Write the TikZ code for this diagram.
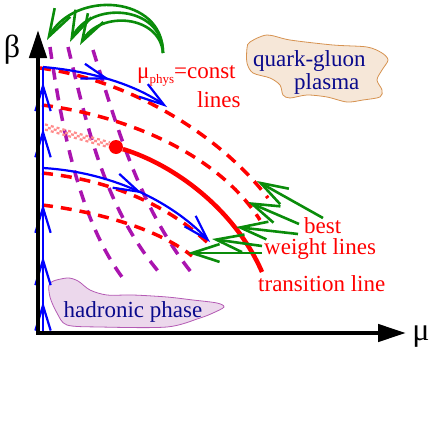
\documentclass[tikz,border=0pt]{standalone}
\usepackage{fontspec}
\setmainfont{Liberation Serif}
\usetikzlibrary{arrows.meta,decorations.markings,calc}
\definecolor{phys}{RGB}{170,20,175}
\definecolor{hint}{RGB}{10,140,10}
\definecolor{phase}{RGB}{10,10,140}
\definecolor{qgpfill}{RGB}{246,231,216}
\definecolor{qgpdraw}{RGB}{214,146,80}
\definecolor{hadfill}{RGB}{236,216,236}
\definecolor{haddraw}{RGB}{180,90,180}

\begin{document}
\begin{tikzpicture}[x=1pt,y=-1pt,
  flowtip/.tip={Straight Barb[angle=34:21pt,scale=1.25]},
  axis/.style={line width=4.5pt,-{Triangle[length=28pt,width=17pt]}},
  flow/.style={blue,line width=2.2pt,-flowtip},
  midflow/.style={postaction={decorate,decoration={markings,mark=at position #1 with {\arrow{flowtip}}}}},
  upflow/.style={postaction={decorate,decoration={markings,
    mark=at position 0.121 with {\arrow{flowtip}},mark=at position 0.291 with {\arrow{flowtip}},
    mark=at position 0.487 with {\arrow{flowtip}},mark=at position 0.770 with {\arrow{flowtip}},
    mark=at position 0.943 with {\arrow{flowtip}}}}},
  weightline/.style={red,line width=3.5pt,dash pattern=on 11pt off 8pt},
  physline/.style={phys,line width=3.5pt,dash pattern=on 12pt off 9pt},
  hintarrow/.style={hint,line width=2.6pt,-{Straight Barb[angle=36:23pt,scale=1.25]}},
  redtext/.style={red,font=\fontsize{23}{23}\selectfont,inner sep=0pt},
  phasetext/.style={phase,font=\fontsize{23}{23}\selectfont,inner sep=0pt},
  axistext/.style={font=\fontsize{32}{32}\selectfont,inner sep=0pt}]
\useasboundingbox (0,0) rectangle (436,423);

\filldraw[fill=qgpfill,draw=qgpdraw,line width=0.8pt] plot[smooth cycle] coordinates {(250,42) (267,35) (290,40) (333,45) (367,47) (382,53) (388,60) (382,70) (377,80) (382,90) (380,97) (363,100) (347,102) (327,97) (307,95) (290,98) (283,95) (280,85) (270,78) (253,73) (247,63) (247,48)};
\filldraw[fill=hadfill,draw=haddraw,line width=0.8pt] plot[smooth cycle] coordinates {(50,283) (67,278) (78,281) (90,290) (107,295) (133,295) (167,297) (193,300) (217,303) (224,307) (213,313) (200,318) (167,327) (100,327) (67,325) (57,313) (50,297)};

\draw[physline] (50,47) .. controls (62,130) and (80,220) .. (122,277);
\draw[physline] (68,47) .. controls (88,130) and (105,210) .. (163,277);
\draw[physline] (93,50) .. controls (118,130) and (140,210) .. (195,277);

\draw[weightline] (40,68) .. controls (130,80) and (220,135) .. (268,198);
\draw[weightline] (42,105) .. controls (120,115) and (215,150) .. (260,220);
\draw[weightline] (42,173) .. controls (110,180) and (170,205) .. (212,247);
\draw[weightline] (42,205) .. controls (100,212) and (160,230) .. (192,256);

\coordinate (bandstart) at (45,127);
\coordinate (bandend) at (110,145);
\foreach \s/\p in {-2.6/0,0/3,2.6/0}
  \draw[red!45,line width=2.2pt,dash pattern=on 3pt off 3pt,dash phase=\p] ($(bandstart)+(0,\s)$) -- ($(bandend)+(0,\s)$);

\node[circle,fill=red,inner sep=0pt,minimum size=14pt] (cep) at (116,147) {};
\draw[red,line width=4.5pt] (cep) .. controls (175,165) and (235,210) .. (262,272);

\coordinate (flowfoot) at (43,334);
\coordinate (flowtop) at (43,67);
\coordinate (flowlow) at (43,168);
\draw[blue,line width=2.2pt,upflow] (flowfoot) -- (flowtop);
\draw[flow,midflow=0.52] (flowtop) .. controls (100,72) and (140,88) .. (167,107);
\draw[flow,midflow=0.55] (flowlow) .. controls (110,172) and (170,200) .. (210,242);

\coordinate (arcfoot) at (163,53);
\draw[hintarrow] (arcfoot) .. controls (163,-5) and (75,-10) .. (47,40);
\draw[hintarrow] (arcfoot) .. controls (163,5) and (90,0) .. (70,42);
\draw[hintarrow] (arcfoot) .. controls (160,15) and (100,10) .. (80,45);

\node[redtext,anchor=base west] (physlabel) at (137,78) {μ{\fontsize{13}{13}\selectfont\raisebox{-5pt}{phys}}=const};
\node[redtext,anchor=base west] (lineslabel) at (197,107) {lines};
\node[phasetext,anchor=base west] (qgp) at (253,66) {quark-gluon};
\node[phasetext,anchor=base west] (plasma) at (294,89) {plasma};
\node[phasetext,anchor=base] (hadron) at (133,317) {hadronic phase};
\node[redtext,anchor=base west] (best) at (304,233) {best};
\node[redtext,anchor=base west] (weight) at (264,254) {weight lines};
\node[redtext,anchor=base west] (transition) at (258,291) {transition line};

\coordinate (s1) at (323,218); \coordinate (t1) at (257,181);
\coordinate (s2) at (299,224); \coordinate (t2) at (248,202);
\coordinate (s3) at (298,234); \coordinate (t3) at (236,227);
\coordinate (s4) at (262,246); \coordinate (t4) at (212,239);
\coordinate (s5) at (262,253); \coordinate (t5) at (188,253);
\foreach \i in {1,...,5}
  \draw[hintarrow] (s\i) -- (t\i);

\coordinate (origin) at (38,333);
\draw[axis,line cap=rect] (origin) -- (38,30);
\draw[axis,line cap=rect] (origin) -- (406,333);
\node[axistext] (betalabel) at (12,50) {β};
\node[axistext] (mulabel) at (421,337) {μ};
\end{tikzpicture}
\end{document}
